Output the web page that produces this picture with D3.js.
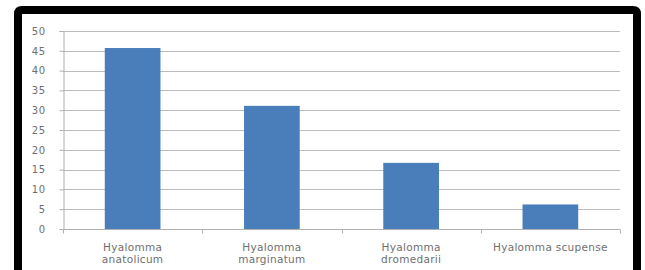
<!DOCTYPE html>
<html>
<head>
<meta charset="utf-8">
<script src="https://cdn.jsdelivr.net/npm/d3@7"></script>
<style>
body { margin: 0; background: #fff; }
svg { display: block; }
</style>
</head>
<body>
<div id="chart"></div>
<script>
var categories = [["Hyalomma", "anatolicum"], ["Hyalomma", "marginatum"], ["Hyalomma", "dromedarii"], ["Hyalomma scupense"]];
var values = [45.7, 31.1, 16.7, 6.2];
var yTicks = [0, 5, 10, 15, 20, 25, 30, 35, 40, 45, 50];

var W = 645, H = 270;
var plot = {left: 63, right: 620, top: 31, bottom: 229};
var font = "'DejaVu Sans', Verdana, sans-serif";

var svg = d3.select("#chart").append("svg")
	.attr("width", W)
	.attr("height", H);

// black frame, open at the bottom
svg.append("path")
	.attr("d", "M 18 " + (H + 10) + " L 18 14 Q 18 10 22 10 L 633 10 Q 637 10 637 14 L 637 " + (H + 10))
	.attr("fill", "#fff")
	.attr("stroke", "#000")
	.attr("stroke-width", 8);

var x = d3.scaleBand()
	.domain(d3.range(categories.length))
	.range([plot.left, plot.right])
	.paddingInner(0.6)
	.paddingOuter(0.3);

var xb = d3.scaleBand()
	.domain(d3.range(categories.length))
	.range([plot.left, plot.right]);

var y = d3.scaleLinear()
	.domain([0, 50])
	.range([plot.bottom, plot.top]);

// gridlines
svg.append("g")
	.selectAll("line")
	.data(yTicks.slice(1))
	.join("line")
	.attr("x1", plot.left)
	.attr("x2", plot.right)
	.attr("y1", d => Math.round(y(d)) + 0.5)
	.attr("y2", d => Math.round(y(d)) + 0.5)
	.attr("stroke", "#bcbcbc")
	.attr("stroke-width", 1);

// bars
svg.append("g")
	.selectAll("rect")
	.data(values)
	.join("rect")
	.attr("x", (d, i) => x(i))
	.attr("y", d => y(d))
	.attr("width", x.bandwidth())
	.attr("height", d => y(0) - y(d))
	.attr("fill", "#4a7ebb");

// y axis
var yAxis = svg.append("g")
	.attr("transform", "translate(" + (plot.left + 0.5) + ",0)")
	.call(d3.axisLeft(y).tickValues(yTicks).tickSize(4).tickPadding(14));
yAxis.select(".domain").attr("stroke", "#b0b0b0");
yAxis.selectAll(".tick line").attr("stroke", "#b0b0b0");
yAxis.selectAll("text")
	.attr("fill", "#707070")
	.style("font-family", font)
	.style("font-size", "10px")
	.style("letter-spacing", "0.5px");

// x axis
var xAxis = svg.append("g")
	.attr("transform", "translate(0," + (plot.bottom + 0.5) + ")");
xAxis.append("line")
	.attr("x1", plot.left)
	.attr("x2", plot.right)
	.attr("stroke", "#b0b0b0");
xAxis.selectAll(".tk")
	.data(d3.range(categories.length + 1))
	.join("line")
	.attr("class", "tk")
	.attr("x1", d => Math.round(d < categories.length ? xb(d) : plot.right) + 0.5)
	.attr("x2", d => Math.round(d < categories.length ? xb(d) : plot.right) + 0.5)
	.attr("y1", 0)
	.attr("y2", 4)
	.attr("stroke", "#b0b0b0");

var labels = svg.append("g")
	.selectAll("text")
	.data(categories)
	.join("text")
	.attr("x", (d, i) => x(i) + x.bandwidth() / 2)
	.attr("y", 251)
	.attr("text-anchor", "middle")
	.attr("fill", "#707070")
	.style("font-family", font)
	.style("font-size", "10.5px")
	.style("letter-spacing", "0.3px");

labels.selectAll("tspan")
	.data(d => d)
	.join("tspan")
	.attr("x", function() { return this.parentNode.getAttribute("x"); })
	.attr("dy", (d, i) => i === 0 ? 0 : 12)
	.text(d => d);
</script>
</body>
</html>
